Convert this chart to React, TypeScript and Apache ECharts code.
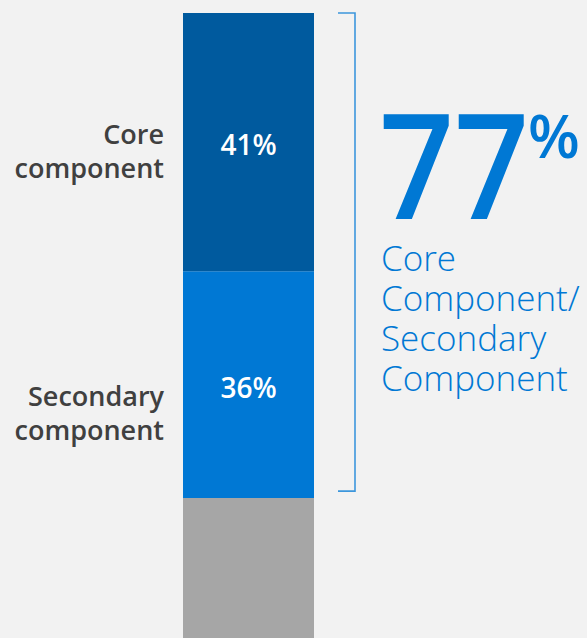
import React, { useEffect, useRef } from "react";
import * as echarts from "echarts";

// ---- data ----
const categories = ["Total"];
const seriesNames = ["Other", "Secondary component", "Core component"]; // bottom -> top
const seriesValues = [23, 36, 41];
const seriesColors = ["#A6A6A6", "#0078D4", "#005A9E"];
const leftLabels = ["Core\ncomponent", "Secondary\ncomponent"];
const headline = "77";
const headlineUnit = "%";
const headlineCaption = ["Core", "Component/", "Secondary", "Component"];

export default function App() {
  const ref = useRef<HTMLDivElement>(null);
  useEffect(() => {
    document.body.style.margin = "0";
    document.body.style.overflow = "hidden";
    document.body.style.background = "#F2F2F2";
    const chart = echarts.init(ref.current!, null, { renderer: "svg" });
    const font = "'Open Sans', 'Segoe UI', sans-serif";
    chart.setOption({
      animation: false,
      backgroundColor: "#F2F2F2",
      grid: { left: 183, width: 131, top: 13, bottom: 0, containLabel: false },
      xAxis: { type: "category", data: categories, show: false },
      yAxis: { type: "value", min: 0, max: 100, show: false },
      series: seriesNames.map((name, i) => ({
        name,
        type: "bar",
        stack: "total",
        barWidth: "100%",
        data: [seriesValues[i]],
        itemStyle: { color: seriesColors[i] },
        label: {
          show: i > 0,
          position: "inside",
          formatter: "{c}%",
          color: "#FFFFFF",
          fontFamily: font,
          fontWeight: 600,
          fontSize: 28,
          offset: [0, 2],
        },
      })),
    });

    // derive layout positions from the axes
    const px = (v: number) => chart.convertToPixel({ gridIndex: 0 }, [0, v]) as number[];
    const top = px(100);
    const coreMid = px(seriesValues[0] + seriesValues[1] + seriesValues[2] / 2);
    const secMid = px(seriesValues[0] + seriesValues[1] / 2);
    const otherTop = px(seriesValues[0]);
    const barRight = top[0] + 131 / 2;
    const barLeft = top[0] - 131 / 2;
    const bx = barRight + 41;
    const bracketColor = "#3C96DC";

    const leftText = (text: string, y: number) => ({
      type: "text",
      x: barLeft - 19,
      y,
      style: {
        text,
        fill: "#404040",
        font: `600 27px ${font}`,
        align: "right",
        verticalAlign: "middle",
        lineHeight: 34,
      },
    });

    chart.setOption({
      graphic: [
        leftText(leftLabels[0], coreMid[1] + 8),
        leftText(leftLabels[1], secMid[1] + 28),
        {
          type: "polyline",
          shape: {
            points: [
              [bx - 17, top[1]],
              [bx, top[1]],
              [bx, otherTop[1] - 7],
              [bx - 17, otherTop[1] - 7],
            ],
          },
          style: { stroke: bracketColor, lineWidth: 1.6, fill: "none" },
        },
        {
          type: "text",
          x: bx + 24,
          y: 163,
          scaleX: 0.9,
          style: {
            text: headline,
            fill: "#0078D4",
            font: `600 146px ${font}`,
            align: "left",
            verticalAlign: "middle",
          },
        },
        {
          type: "text",
          x: bx + 173,
          y: 135,
          style: {
            text: headlineUnit,
            fill: "#0078D4",
            font: `600 60px ${font}`,
            align: "left",
            verticalAlign: "middle",
          },
        },
        {
          type: "text",
          x: bx + 26,
          y: 237,
          style: {
            text: headlineCaption.join("\n"),
            fill: "#0078D4",
            font: `300 35px ${font}`,
            lineHeight: 40,
            align: "left",
            verticalAlign: "top",
          },
        },
      ],
    });
    return () => chart.dispose();
  }, []);
  return <div ref={ref} style={{ width: 587, height: 643 }} />;
}
